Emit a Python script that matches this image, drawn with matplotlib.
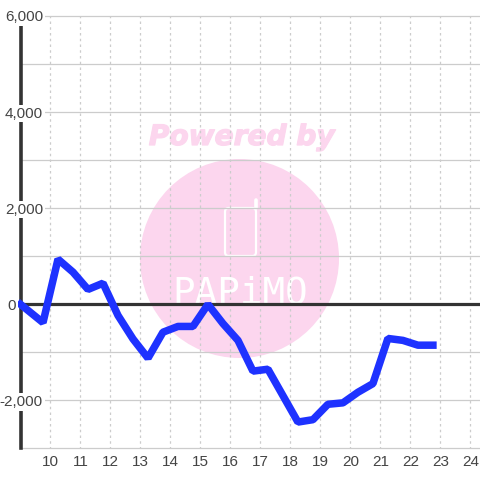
import matplotlib
matplotlib.use('Agg')
import matplotlib.pyplot as plt
import matplotlib.patheffects as pe
from matplotlib.patches import Circle, FancyBboxPatch

hours = [9.0, 9.75, 10.25, 10.75, 11.25, 11.75, 12.25, 12.75, 13.25, 13.75,
         14.25, 14.75, 15.25, 15.75, 16.25, 16.75, 17.25, 17.75, 18.25, 18.75,
         19.25, 19.75, 20.25, 20.75, 21.25, 21.75, 22.25, 22.75]
values = [0, -380, 940, 670, 310, 440, -230, -720, -1120, -580,
          -460, -460, 0, -400, -750, -1390, -1350, -1900, -2450, -2400,
          -2080, -2050, -1830, -1650, -710, -750, -850, -850]
hour_ticks = list(range(10, 25))
value_ticks = [-2000, 0, 2000, 4000, 6000]
grid_values = list(range(-3000, 7000, 1000))

PINK = '#fcd6ee'
GRID = '#cccccc'
DARK = '#333333'
TEXT = '#444444'
FONT = 'Liberation Sans'

fig = plt.figure(figsize=(4.8, 4.8), dpi=100)
ax = fig.add_axes([20.5 / 480, 1 - 448.5 / 480, 459.5 / 480, 432.5 / 480])
ax.patch.set_visible(False)
ax.set_xlim(9, 24.32)
ax.set_ylim(-3000, 6000)

# watermark sits behind the axes, placed in pixels from the top left
def px(x, y):
    return x / 480, 1 - y / 480

wm = fig.transFigure
fig.patches.append(Circle((239.5 / 480, 1 - 258.5 / 480), 99.5 / 480, transform=wm,
                          color=PINK, lw=0, zorder=-2))
fig.patches.append(FancyBboxPatch(px(225, 256), 31 / 480, 48 / 480, transform=wm,
                                  boxstyle='round,pad=0,rounding_size=0.008',
                                  fc='none', ec='white', lw=1.6, zorder=-1))
fig.add_artist(plt.Line2D([255.5 / 480, 255.5 / 480], [1 - 208 / 480, 1 - 200 / 480],
                          transform=wm, color='white', lw=2.6, solid_capstyle='round', zorder=-1))
x, y = px(241.5, 145)
t = fig.text(x, y, 'Powered by', color=PINK, fontsize=20.2, fontweight='bold', style='oblique',
             family='DejaVu Sans', ha='center', va='baseline', zorder=-1)
t.set_path_effects([pe.withStroke(linewidth=0.9, foreground=PINK)])
x, y = px(240, 304)
fig.text(x, y, 'PAPiMO', color='white', fontsize=27, family='DejaVu Sans Mono',
         ha='center', va='baseline', zorder=-1)

for v in grid_values:
    if v != 0:
        ax.axhline(v, color=GRID, lw=0.9, zorder=1, clip_on=False)
for h in hour_ticks:
    ax.axvline(h, color=GRID, lw=0.9, ls=(0, (2, 2.6)), zorder=1)

for s in ['top', 'right', 'bottom']:
    ax.spines[s].set_visible(False)
ax.spines['left'].set_linewidth(2.6)
ax.spines['left'].set_color(DARK)
ax.spines['left'].set_zorder(2)
ax.axhline(0, color=DARK, lw=2.3, zorder=2)

ax.plot(hours, values, color='#1e32ff', lw=5.4, solid_joinstyle='bevel',
        solid_capstyle='projecting', zorder=3, clip_on=False)

ax.set_yticks([])
ax.set_xticks(hour_ticks)
ax.set_xticklabels([str(h) for h in hour_ticks], family=FONT, fontsize=11, color=TEXT)
ax.tick_params(axis='x', length=0, pad=5)

# y labels carry a white box that breaks the spine and the grid line
for v in value_ticks:
    right = 16 if v == 0 else 43
    ax.annotate(f'{v:,}', xy=(0, v), xycoords=('axes fraction', 'data'),
                xytext=(right - 20.5, -1.5), textcoords='offset pixels',
                ha='right', va='center', family=FONT, fontsize=11, color=TEXT, zorder=4,
                bbox=dict(fc='white', ec='none', pad=1.2), annotation_clip=False)

fig.savefig('out.png', dpi=100)
